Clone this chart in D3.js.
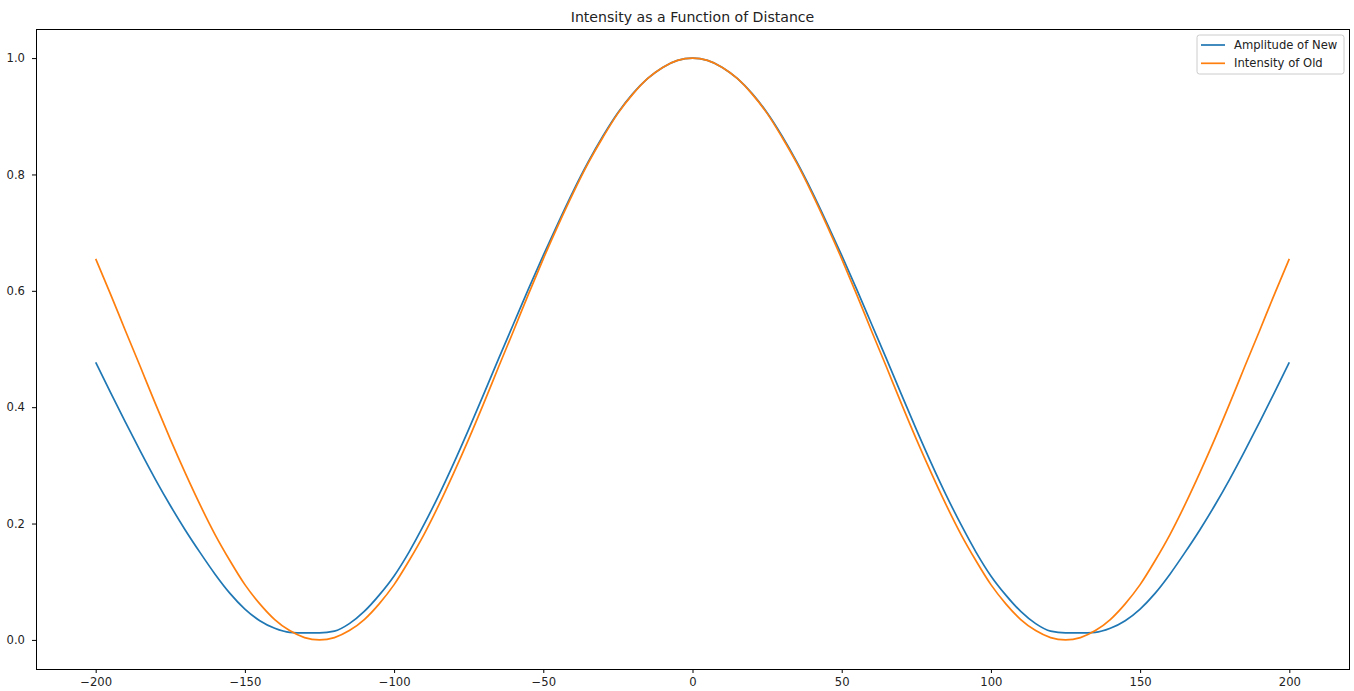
<!DOCTYPE html>
<html>
<head>
<meta charset="utf-8">
<script src="https://cdn.jsdelivr.net/npm/d3@7"></script>
<style>
  body { margin: 0; background: #fff; }
  svg { display: block; font-family: "DejaVu Sans", sans-serif; }
  .axis path, .axis line { stroke: #000; }
  .axis text { fill: #222; font-size: 11.6px; font-family: "DejaVu Sans", sans-serif; }
</style>
</head>
<body>
<div id="chart"></div>
<script>
// distance values (x)
var distance = [
  -200, -195, -190, -185, -180, -175, -170, -165, -160, -155,
  -150, -145, -140, -135, -130, -125, -120, -115, -110, -105,
  -100, -95, -90, -85, -80, -75, -70, -65, -60, -55,
  -50, -45, -40, -35, -30, -25, -20, -15, -10, -5,
  0,
  5, 10, 15, 20, 25, 30, 35, 40, 45, 50,
  55, 60, 65, 70, 75, 80, 85, 90, 95, 100,
  105, 110, 115, 120, 125, 130, 135, 140, 145, 150,
  155, 160, 165, 170, 175, 180, 185, 190, 195, 200
];

// "Amplitude of New" (blue)
var amplitudeNew = [
  0.477, 0.425, 0.374, 0.324, 0.276, 0.231, 0.189, 0.150, 0.113, 0.080,
  0.053, 0.033, 0.020, 0.013, 0.012, 0.012, 0.015, 0.028, 0.049, 0.077,
  0.110, 0.151, 0.198, 0.249, 0.304, 0.362, 0.422, 0.483, 0.543, 0.603,
  0.661, 0.717, 0.771, 0.821, 0.866, 0.906, 0.939, 0.965, 0.984, 0.996,
  1.000,
  0.996, 0.984, 0.965, 0.939, 0.906, 0.866, 0.821, 0.771, 0.717, 0.661,
  0.603, 0.543, 0.483, 0.422, 0.362, 0.304, 0.249, 0.198, 0.151, 0.110,
  0.077, 0.049, 0.028, 0.015, 0.012, 0.012, 0.013, 0.020, 0.033, 0.053,
  0.080, 0.113, 0.150, 0.189, 0.231, 0.276, 0.324, 0.374, 0.425, 0.477
];

// "Intensity of Old" (orange)
var intensityOld = [
  0.655, 0.594, 0.531, 0.469, 0.406, 0.345, 0.287, 0.232, 0.181, 0.136,
  0.095, 0.062, 0.035, 0.016, 0.004, 0.000, 0.004, 0.016, 0.035, 0.062,
  0.095, 0.136, 0.181, 0.232, 0.287, 0.345, 0.406, 0.469, 0.531, 0.594,
  0.655, 0.713, 0.768, 0.819, 0.864, 0.905, 0.938, 0.965, 0.984, 0.996,
  1.000,
  0.996, 0.984, 0.965, 0.938, 0.905, 0.864, 0.819, 0.768, 0.713, 0.655,
  0.594, 0.531, 0.469, 0.406, 0.345, 0.287, 0.232, 0.181, 0.136, 0.095,
  0.062, 0.035, 0.016, 0.004, 0.000, 0.004, 0.016, 0.035, 0.062, 0.095,
  0.136, 0.181, 0.232, 0.287, 0.345, 0.406, 0.469, 0.531, 0.594, 0.655
];

var xTicks = [-200, -150, -100, -50, 0, 50, 100, 150, 200];
var yTicks = [0.0, 0.2, 0.4, 0.6, 0.8, 1.0];

var seriesNames = ["Amplitude of New", "Intensity of Old"];
var seriesColors = ["#1f77b4", "#ff7f0e"];

var W = 1354, H = 691;
var margin = { top: 29, left: 36, right: 5, bottom: 22 },
    width = W - margin.left - margin.right,
    height = H - margin.top - margin.bottom;

var svg = d3.select("#chart")
  .append("svg")
  .attr("width", W)
  .attr("height", H);

var g = svg.append("g")
  .attr("transform", "translate(" + margin.left + "," + margin.top + ")");

// matplotlib style 5% margins
var x = d3.scaleLinear().domain([-220, 220]).range([0, width]);
var y = d3.scaleLinear().domain([-0.05, 1.05]).range([height, 0]);

var line = d3.line()
  .x(function(d) { return x(d[0]); })
  .y(function(d) { return y(d[1]); })
  .curve(d3.curveMonotoneX);

var series = [amplitudeNew, intensityOld];
series.forEach(function(vals, i) {
  var pts = distance.map(function(d, j) { return [d, vals[j]]; });
  g.append("path")
    .datum(pts)
    .attr("fill", "none")
    .attr("stroke", seriesColors[i])
    .attr("stroke-width", 1.7)
    .attr("d", line);
});

// axes
var fmtX = function(d) { return d < 0 ? "\u2212" + Math.abs(d) : String(d); };
g.append("g")
  .attr("class", "axis")
  .attr("transform", "translate(0," + height + ")")
  .call(d3.axisBottom(x).tickValues(xTicks).tickFormat(fmtX).tickSize(4).tickPadding(5).tickSizeOuter(0))
  .call(function(s) { s.select(".domain").remove(); });

g.append("g")
  .attr("class", "axis")
  .call(d3.axisLeft(y).tickValues(yTicks).tickFormat(d3.format(".1f")).tickSize(4).tickPadding(7).tickSizeOuter(0))
  .call(function(s) { s.select(".domain").remove(); });

// frame
g.append("rect")
  .attr("x", 0).attr("y", 0)
  .attr("width", width).attr("height", height)
  .attr("fill", "none")
  .attr("stroke", "#000")
  .attr("stroke-width", 1)
  .attr("shape-rendering", "crispEdges");

// title
svg.append("text")
  .attr("x", margin.left + width / 2)
  .attr("y", 22)
  .attr("text-anchor", "middle")
  .style("font-size", "14.1px")
  .style("fill", "#222")
  .text("Intensity as a Function of Distance");

// legend
var lg = svg.append("g").attr("transform", "translate(1197,35)");
lg.append("rect")
  .attr("width", 147).attr("height", 39)
  .attr("rx", 2.5)
  .attr("fill", "#fff").attr("fill-opacity", 0.8)
  .attr("stroke", "#cccccc").attr("stroke-width", 1);

seriesNames.forEach(function(name, i) {
  var ly = 10 + i * 18.3;
  lg.append("line")
    .attr("x1", 4).attr("x2", 28)
    .attr("y1", ly).attr("y2", ly)
    .attr("stroke", seriesColors[i])
    .attr("stroke-width", 1.7);
  lg.append("text")
    .attr("x", 37).attr("y", ly)
    .attr("dy", "0.35em")
    .style("font-size", "11.6px")
    .style("fill", "#222")
    .text(name);
});
</script>
</body>
</html>
